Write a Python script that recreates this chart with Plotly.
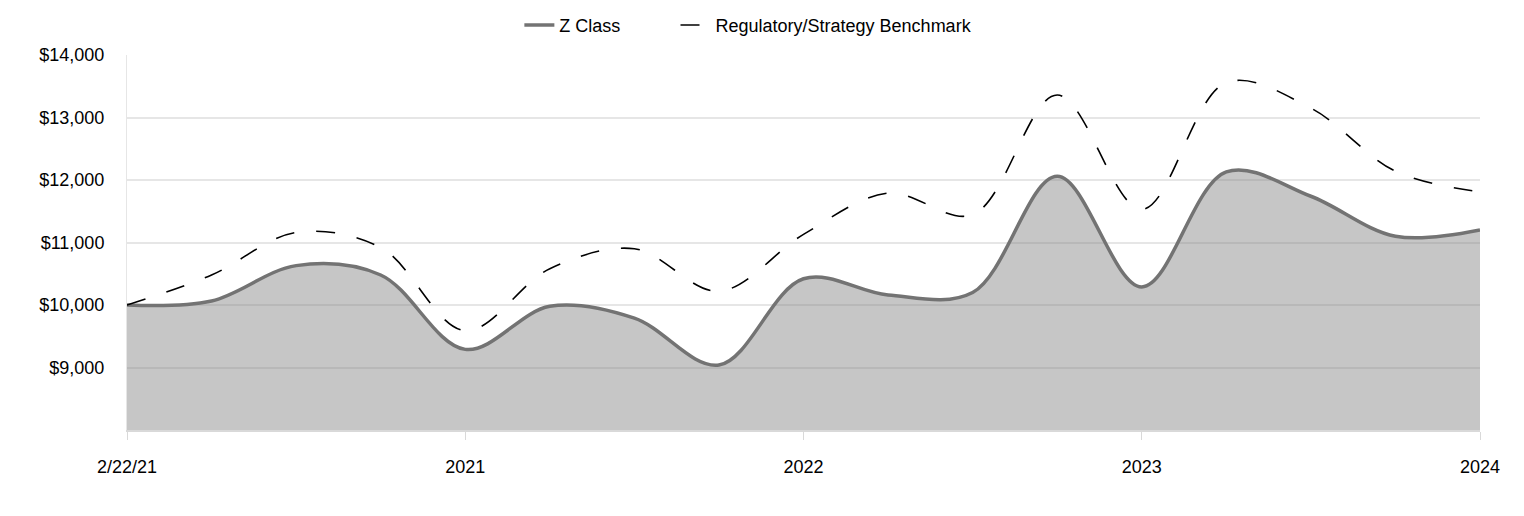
import plotly.graph_objects as go

# quarterly points, labels every 4th point
periods = list(range(17))
tick_pos = [0, 4, 8, 12, 16]
tick_labels = ['2/22/21', '2021', '2022', '2023', '2024']

z_class = [10000, 10065, 10630, 10480, 9290, 9980, 9790, 9040, 10420,
           10160, 10200, 12060, 10290, 12130, 11740, 11100, 11200]
benchmark = [10000, 10480, 11160, 10920, 9590, 10580, 10900, 10220, 11130,
             11790, 11445, 13360, 11530, 13560, 13150, 12140, 11810]

y_ticks = [9000, 10000, 11000, 12000, 13000, 14000]

fig = go.Figure(data=[
    # shaded area under Z Class (kept out of the legend)
    go.Scatter(
        x=periods,
        y=z_class,
        mode='lines',
        line=dict(width=0, shape='spline', smoothing=1),
        fill='tozeroy',
        fillcolor='rgba(128,128,128,0.45)',
        showlegend=False,
        hoverinfo='skip'
    ),
    go.Scatter(
        x=periods,
        y=z_class,
        mode='lines',
        name='Z Class',
        line=dict(color='#737373', width=3.5, shape='spline', smoothing=1),
        legend='legend'
    ),
    go.Scatter(
        x=periods,
        y=benchmark,
        mode='lines',
        name='Regulatory/Strategy Benchmark',
        line=dict(color='black', width=1.6, dash='19px,22px', shape='spline', smoothing=1),
        legend='legend2'
    ),
])

# page body adds 8px offset, margins compensate
fig.update_layout(
    width=1524,
    height=516,
    plot_bgcolor='white',
    paper_bgcolor='white',
    font=dict(family='Liberation Sans, Arial', size=18, color='black'),
    margin=dict(l=119, r=52, t=47, b=94, autoexpand=False),
    legend=dict(
        orientation='h',
        x=0.290,
        xanchor='left',
        y=1.03,
        yanchor='bottom',
        font=dict(size=18)
    ),
    legend2=dict(
        orientation='h',
        x=0.4054,
        xanchor='left',
        y=1.03,
        yanchor='bottom',
        font=dict(size=18)
    ),
    xaxis=dict(
        range=[0, 16],
        tickvals=tick_pos,
        ticktext=tick_labels,
        showgrid=False,
        zeroline=False,
        showline=True,
        linecolor='#d9d9d9',
        linewidth=1.5,
        ticks='outside',
        ticklen=8,
        tickcolor='#d9d9d9',
        ticklabelstandoff=12,
        automargin=False
    ),
    yaxis=dict(
        range=[8000, 14000],
        tickvals=y_ticks,
        tickformat='$,.0f',
        showgrid=True,
        gridcolor='#e6e6e6',
        gridwidth=1.5,
        zeroline=False,
        showline=True,
        linecolor='#e6e6e6',
        ticks='',
        ticklabelstandoff=18,
        automargin=False
    )
)

fig.write_html("out.html")
